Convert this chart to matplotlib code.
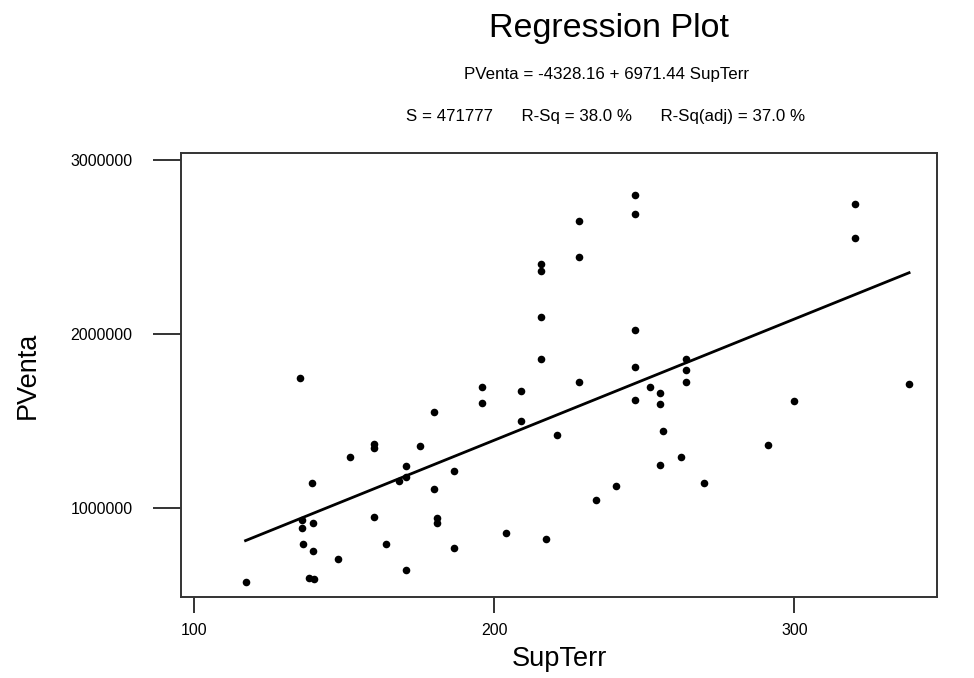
import matplotlib
matplotlib.use("Agg")
import matplotlib.pyplot as plt
import numpy as np

plt.rcParams['font.family'] = ['Liberation Sans', 'DejaVu Sans']

sup_terr = [117.2, 135.3, 139.2, 136.1, 136.1, 139.7, 136.3, 139.7, 138.4, 139.9,
            148.1, 152.1, 159.9, 159.9, 159.9, 164.0, 168.2, 170.7, 170.7, 170.7,
            175.4, 179.9, 179.9, 181.0, 181.0, 186.7, 186.7, 195.9, 195.9, 203.8,
            209.0, 209.0, 215.6, 215.6, 215.6, 215.6, 217.2, 221.0, 228.2, 228.2,
            228.2, 234.0, 240.7, 246.9, 246.9, 246.9, 246.9, 246.9, 252.0, 255.1,
            255.1, 256.1, 255.1, 262.3, 263.9, 263.9, 263.9, 270.0, 291.2, 300.0,
            320.2, 320.2, 338.2]
p_venta = [574000, 1750000, 1143000, 931000, 883000, 912000, 795000, 751000, 600000, 590000,
           707000, 1296000, 1371000, 1346000, 946000, 795000, 1155000, 1241000, 1180000, 644000,
           1358000, 1554000, 1107000, 941000, 912000, 1214000, 769000, 1696000, 1606000, 859000,
           1671000, 1501000, 2403000, 2365000, 2098000, 1857000, 822000, 1419000, 2650000, 2444000,
           1723000, 1046000, 1126000, 2801000, 2694000, 2025000, 1811000, 1623000, 1696000, 1660000,
           1597000, 1446000, 1250000, 1294000, 1857000, 1792000, 1723000, 1143000, 1365000, 1616000,
           2748000, 2551000, 1713000]

intercept = -4328.16
slope = 6971.44

x_ticks = [100, 200, 300]
y_ticks = [1000000, 2000000, 3000000]

title = "Regression Plot"
equation = "PVenta = -4328.16 + 6971.44 SupTerr"
stats = "S = 471777      R-Sq = 38.0 %      R-Sq(adj) = 37.0 %"

fig = plt.figure(figsize=(9.74, 6.78), dpi=100)
ax = fig.add_axes([181/974, 1-597/678, 756/974, 444/678])

ax.scatter(sup_terr, p_venta, s=30, color='black', linewidths=0, zorder=3)
xl = np.array([min(sup_terr), max(sup_terr)])
ax.plot(xl, intercept + slope * xl, color='black', lw=2.0, zorder=2)

ax.set_xlim(95.7, 347.5)
ax.set_ylim(488500, 3042000)
ax.set_xticks(x_ticks)
ax.set_xticklabels([str(t) for t in x_ticks])
ax.set_yticks(y_ticks)
ax.set_yticklabels([str(t) for t in y_ticks])

for sp in ax.spines.values():
    sp.set_linewidth(1.4)
    sp.set_color('#333333')

ax.tick_params(axis='y', length=20, width=1.4, color='#333333', pad=15, labelsize=11.5)
ax.tick_params(axis='x', length=11.5, width=1.4, color='#333333', pad=7, labelsize=11.5)

ax.set_xlabel("SupTerr", fontsize=19.5, labelpad=6)
ax.set_ylabel("PVenta", fontsize=19.5, labelpad=21)

fig.text(609/974, 1-28/678, title, fontsize=24.5, ha='center', va='center')
fig.text(607/974, 1-75/678, equation, fontsize=12.2, ha='center', va='center')
fig.text(606/974, 1-116/678, stats, fontsize=12.2, ha='center', va='center')

fig.savefig("out.png", dpi=100)
